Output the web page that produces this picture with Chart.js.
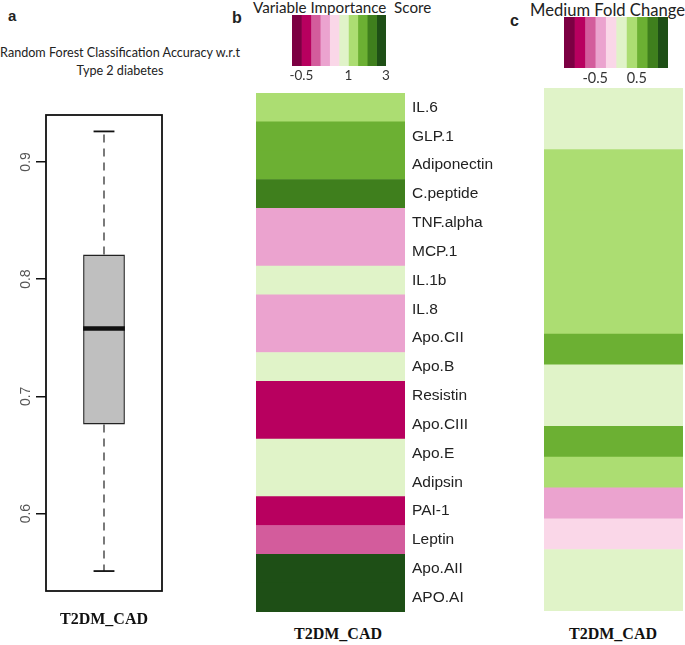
<!DOCTYPE html>
<html>
<head>
<meta charset="utf-8">
<script src="https://cdn.jsdelivr.net/npm/chart.js@4.4.1/dist/chart.umd.min.js"></script>
<style>
  body { margin: 0; background: #fff; width: 685px; height: 645px; position: relative; overflow: hidden; }
  canvas { position: absolute; }
  .t { position: absolute; white-space: pre; color: #222; }
</style>
</head>
<body>
<div class="t" style="left:8px;top:7px;font:bold 15px 'Liberation Sans'">a</div>
<div class="t" style="left:232px;top:9px;font:bold 16px 'Liberation Sans'">b</div>
<div class="t" style="left:510px;top:12px;font:bold 16px 'Liberation Sans'">c</div>
<div class="t" style="left:0;top:44px;width:240px;text-align:center;font:12.6px Lato;line-height:18px;color:#222">Random Forest Classification Accuracy w.r.t
Type 2 diabetes</div>
<div class="t" style="left:253px;top:-2px;font:15.2px Lato;color:#222">Variable Importance  Score</div>
<div class="t" style="left:530px;top:0px;font:16.6px Lato;color:#222">Medium Fold Change</div>
<div class="t" style="left:290px;top:625px;width:96px;text-align:center;font:bold 16px 'Liberation Serif';color:#111">T2DM_CAD</div>
<div class="t" style="left:565px;top:625px;width:96px;text-align:center;font:bold 16px 'Liberation Serif';color:#111">T2DM_CAD</div>

<canvas id="boxChart" width="240" height="645" style="left:0;top:0"></canvas>
<canvas id="heatB" width="285" height="645" style="left:240px;top:0"></canvas>
<canvas id="legendB" width="118" height="90" style="left:282px;top:0"></canvas>
<canvas id="heatC" width="155" height="645" style="left:530px;top:0"></canvas>
<canvas id="legendC" width="135" height="95" style="left:550px;top:0"></canvas>

<script>
// panel a: accuracy box plot
const boxCategory = ['T2DM_CAD'];
const boxMin = [0.551];
const boxQ1 = [0.676];
const boxMedian = [0.758];
const boxQ3 = [0.821];
const boxMax = [0.926];
const accuracyTicks = [0.6, 0.7, 0.8, 0.9];

// panel b: variable importance
const markersB = ['IL.6', 'GLP.1', 'Adiponectin', 'C.peptide', 'TNF.alpha', 'MCP.1', 'IL.1b', 'IL.8', 'Apo.CII',
  'Apo.B', 'Resistin', 'Apo.CIII', 'Apo.E', 'Adipsin', 'PAI-1', 'Leptin', 'Apo.AII', 'APO.AI'];
const importance = [1.2, 1.7, 1.8, 2.2, 0.2, 0.25, 0.8, 0.2, 0.3, 0.85, -0.4, -0.35, 0.9, 0.8, -0.3, -0.1, 2.8, 2.9];
const importanceBreaks = [-1, -0.5, -0.2, 0.1, 0.4, 0.7, 1, 1.5, 2, 2.5, 3];
const importanceTicks = [-0.5, 1, 3];

// panel c: median fold change
const foldChange = [0.1, 0.12, 0.35, 0.4, 0.3, 0.45, 0.38, 0.42, 0.6, 0.15, 0.2, 0.65, 0.3, -0.35, -0.1, 0.05, 0.08];
const foldBreaks = [-1.25, -1, -0.75, -0.5, -0.25, 0, 0.25, 0.5, 0.75, 1, 1.25];
const foldTicks = [-0.5, 0.5];

const palette = ['#7c0043', '#b8005f', '#d35c9c', '#eba3cf', '#fad7e8', '#e0f3c8', '#acdd72', '#6cb033', '#3f7f1d', '#1e4f16'];

function binColor(v, breaks) {
  for (let i = 1; i < breaks.length; i++) {
    if (v <= breaks[i]) return palette[i - 1];
  }
  return palette[palette.length - 1];
}

const quiet = { legend: { display: false }, tooltip: { enabled: false } };

const boxPlugin = {
  id: 'boxWhiskers',
  afterDatasetsDraw(chart) {
    const { ctx, chartArea: a, scales: { y } } = chart;
    const meta = chart.getDatasetMeta(0);
    ctx.save();
    const line = (x1, y1, x2, y2) => { ctx.beginPath(); ctx.moveTo(x1, y1); ctx.lineTo(x2, y2); ctx.stroke(); };
    meta.data.forEach((bar, i) => {
      const cx = bar.x, hw = bar.width / 2;
      const yMin = y.getPixelForValue(boxMin[i]);
      const yQ1 = y.getPixelForValue(boxQ1[i]);
      const yMed = y.getPixelForValue(boxMedian[i]);
      const yQ3 = y.getPixelForValue(boxQ3[i]);
      const yMax = y.getPixelForValue(boxMax[i]);
      ctx.strokeStyle = '#333';
      ctx.lineWidth = 1.3;
      ctx.setLineDash([8, 6]);
      line(cx, yQ3, cx, yMax);
      line(cx, yQ1, cx, yMin);
      ctx.setLineDash([]);
      ctx.strokeStyle = '#111';
      ctx.lineWidth = 1.8;
      line(cx - hw / 2, yMax, cx + hw / 2, yMax);
      line(cx - hw / 2, yMin, cx + hw / 2, yMin);
      ctx.lineWidth = 4.5;
      line(cx - hw, yMed, cx + hw, yMed);
    });
    ctx.lineWidth = 1.8;
    ctx.strokeStyle = '#111';
    ctx.strokeRect(a.left, a.top, a.width, a.height);
    ctx.fillStyle = '#555';
    ctx.font = '14px "Liberation Sans"';
    ctx.textAlign = 'center';
    ctx.textBaseline = 'middle';
    y.ticks.forEach(t => {
      ctx.save();
      ctx.translate(a.left - 20, y.getPixelForValue(t.value));
      ctx.rotate(-Math.PI / 2);
      ctx.fillText(t.value.toFixed(1), 0, 0);
      ctx.restore();
    });
    ctx.restore();
  }
};

new Chart(document.getElementById('boxChart'), {
  type: 'bar',
  data: {
    labels: boxCategory,
    datasets: [{
      data: boxQ1.map((q, i) => [q, boxQ3[i]]),
      backgroundColor: '#bfbfbf',
      borderColor: '#222',
      borderWidth: 1.5,
      borderSkipped: false,
      barPercentage: 0.36,
      categoryPercentage: 1
    }]
  },
  options: {
    responsive: false,
    animation: false,
    plugins: quiet,
    layout: { padding: { top: 115, right: 78, left: 0, bottom: 0 } },
    scales: {
      x: {
        grid: { display: false, drawTicks: false },
        border: { display: false },
        ticks: { font: { family: 'Liberation Serif', size: 16, weight: 'bold' }, color: '#111', padding: 19 },
        afterFit(s) { s.height = 54; }
      },
      y: {
        min: 0.534,
        max: 0.94,
        afterBuildTicks(s) { s.ticks = accuracyTicks.map(v => ({ value: v })); },
        ticks: { display: false },
        grid: { drawOnChartArea: false, drawTicks: true, tickLength: 10, color: '#111', lineWidth: 1.5 },
        border: { display: false },
        afterFit(s) { s.width = 46; }
      }
    }
  },
  plugins: [boxPlugin]
});

new Chart(document.getElementById('heatB'), {
  type: 'bar',
  data: {
    labels: markersB,
    datasets: [{
      data: importance.map(() => [0, 1]),
      backgroundColor: importance.map(v => binColor(v, importanceBreaks)),
      borderWidth: 0,
      barPercentage: 1,
      categoryPercentage: 1
    }]
  },
  options: {
    indexAxis: 'y',
    responsive: false,
    animation: false,
    plugins: quiet,
    layout: { padding: { left: 16, top: 93, bottom: 33, right: 0 } },
    scales: {
      x: { display: false, min: 0, max: 1 },
      y: {
        position: 'right',
        grid: { display: false, drawTicks: false },
        border: { display: false },
        ticks: { font: { family: 'Liberation Sans', size: 15.5 }, color: '#222', padding: 7, autoSkip: false },
        afterFit(s) { s.width = 120; }
      }
    }
  }
});

new Chart(document.getElementById('heatC'), {
  type: 'bar',
  data: {
    labels: foldChange.map((_, i) => String(i + 1)),
    datasets: [{
      data: foldChange.map(() => [0, 1]),
      backgroundColor: foldChange.map(v => binColor(v, foldBreaks)),
      borderWidth: 0,
      barPercentage: 1,
      categoryPercentage: 1
    }]
  },
  options: {
    indexAxis: 'y',
    responsive: false,
    animation: false,
    plugins: quiet,
    layout: { padding: { left: 14, top: 88, bottom: 34, right: 2 } },
    scales: {
      x: { display: false, min: 0, max: 1 },
      y: { display: false }
    }
  }
});

function colourKey(id, spans, min, max, tickValues, tickLabels, pad, axisHeight, fontSize) {
  new Chart(document.getElementById(id), {
    type: 'bar',
    data: {
      labels: [''],
      datasets: palette.map((c, i) => ({
        data: [spans[i]],
        backgroundColor: c,
        borderWidth: 0,
        grouped: false,
        barPercentage: 1,
        categoryPercentage: 1
      }))
    },
    options: {
      indexAxis: 'y',
      responsive: false,
      animation: false,
      plugins: quiet,
      layout: { padding: pad },
      scales: {
        y: { display: false },
        x: {
          min: min,
          max: max,
          grid: { display: false, drawTicks: false },
          border: { display: false },
          afterBuildTicks(s) { s.ticks = tickValues.map(v => ({ value: v })); },
          ticks: {
            callback: (v, i) => tickLabels[i],
            font: { family: 'Lato', size: fontSize },
            color: '#333',
            padding: 2,
            maxRotation: 0,
            autoSkip: false
          },
          afterFit(s) { s.height = axisHeight; }
        }
      }
    }
  });
}

colourKey('legendB',
  palette.map((_, i) => [i, i + 1]), 0, palette.length,
  importanceTicks.map(v => importanceBreaks.indexOf(v)), importanceTicks.map(String),
  { left: 10, top: 15, right: 14, bottom: 0 }, 24, 13.5);

colourKey('legendC',
  palette.map((_, i) => [foldBreaks[i], foldBreaks[i + 1]]), foldBreaks[0], foldBreaks[foldBreaks.length - 1],
  foldTicks, foldTicks.map(String),
  { left: 14, top: 17, right: 17, bottom: 0 }, 27, 14.5);
</script>
</body>
</html>
